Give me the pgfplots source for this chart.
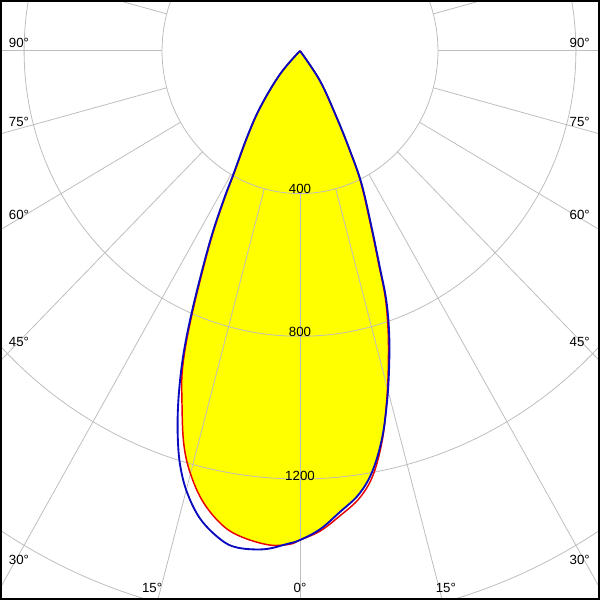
\documentclass[border=0pt]{standalone}
\usepackage{pgfplots}
\pgfplotsset{compat=1.18}
\usepackage{pgfplotstable}
\usepgfplotslibrary{polar}
\usepackage{fontspec}
\setmainfont{Liberation Sans}
\definecolor{gridc}{RGB}{190,190,190}
\definecolor{curveblue}{RGB}{10,10,190}
\definecolor{curvered}{RGB}{230,0,0}
\definecolor{fillyellow}{RGB}{255,255,0}

\pgfplotstableread{
g I
-50 0
-41.6 87
-36.1 196
-32.4 287
-29.2 395
-27.9 474
-26.1 591
-23.7 756
-22.1 883
-20.8 976
-19.4 1066
-18.0 1146
-16.6 1215
-14.8 1281
-12.4 1344
-9.6 1388
-7.5 1404
-4.3 1401
-1.6 1383
0 1371
2.5 1342
5.1 1298
7.8 1255
10.1 1197
12.4 1110
14.5 1010
16.3 921
18.1 832
19.7 742
20.9 648
22.8 535
25.6 413
27.4 315
29.7 214
34.6 102
40 0
}\bluedata

\pgfplotstableread{
g I
-50 0
-41.6 85
-36.1 193
-32.4 283
-29.2 389
-27.9 467
-26.1 583
-23.7 746
-22.1 872
-20.8 962
-19.3 1036
-17.1 1148
-15.1 1224
-12.5 1296
-9.5 1350
-6.9 1374
-3.6 1388
-1.2 1383
0 1371
2.5 1347
5.1 1308
7.8 1266
10.1 1208
12.4 1114
14.5 1006
16.3 913
18.1 822
19.7 733
20.9 640
22.8 528
25.6 407
27.4 310
29.7 211
34.6 100
40 0
}\reddata

\pgfplotstableread{
g I
-50 0
-41.6 85
-36.1 193
-32.4 283
-29.2 389
-27.9 467
-26.1 583
-23.7 746
-22.1 872
-20.8 962
-19.3 1036
-17.1 1148
-15.1 1224
-12.5 1296
-9.5 1350
-6.9 1374
-3.6 1388
-1.2 1383
0 1371
2.5 1342
5.1 1298
7.8 1255
10.1 1197
12.4 1110
14.5 1006
16.3 913
18.1 822
19.7 733
20.9 640
22.8 528
25.6 407
27.4 310
29.7 211
34.6 100
40 0
}\filldata

\begin{document}
\begin{tikzpicture}
\begin{axis}[
  scale only axis, width=450pt, height=450pt,
  xmin=-867, xmax=867, ymin=-1536.3, ymax=139.7,
  axis line style={line width=1.5pt, black},
  xtick=\empty, ytick=\empty,
  axis on top=true,
  clip=true,
  every node/.style={font=\fontsize{8.5}{10}\selectfont, inner sep=0pt},
]
\addplot[data cs=polar, fill=fillyellow, draw=none, smooth, tension=0.6] table[x expr=\thisrow{g}-90, y=I] {\filldata};

\foreach \r in {400,800,1200,1600,2000}{
  \edef\temp{\noexpand\draw[gridc, line width=0.6pt] (axis cs:0,0) ellipse [x radius=\r, y radius=\r];}
  \temp
}
\pgfplotsinvokeforeach{0,15,...,345}{
  \draw[gridc, line width=0.6pt] (axis cs:{400*cos(#1)},{400*sin(#1)}) -- (axis cs:{2400*cos(#1)},{2400*sin(#1)});
}

\node[anchor=base] at (axis cs:0,-400) {400};
\node[anchor=base] at (axis cs:0,-801) {800};
\node[anchor=base] at (axis cs:0,-1203) {1200};

\node at (axis cs:-815,22) {90°};
\node at (axis cs:-815,-200) {75°};
\node at (axis cs:-815,-461) {60°};
\node at (axis cs:-815,-816) {45°};
\node at (axis cs:-815,-1427) {30°};
\node at (axis cs:811,22) {90°};
\node at (axis cs:811,-200) {75°};
\node at (axis cs:811,-461) {60°};
\node at (axis cs:811,-816) {45°};
\node at (axis cs:811,-1427) {30°};
\node at (axis cs:-429,-1506) {15°};
\node at (axis cs:0,-1506) {0°};
\node at (axis cs:423,-1506) {15°};

\addplot[data cs=polar, curvered, line width=1.1pt, line join=round, smooth, tension=0.6] table[x expr=\thisrow{g}-90, y=I] {\reddata};
\addplot[data cs=polar, curveblue, line width=1.4pt, line join=round, smooth, tension=0.6] table[x expr=\thisrow{g}-90, y=I] {\bluedata};
\end{axis}
\end{tikzpicture}
\end{document}
